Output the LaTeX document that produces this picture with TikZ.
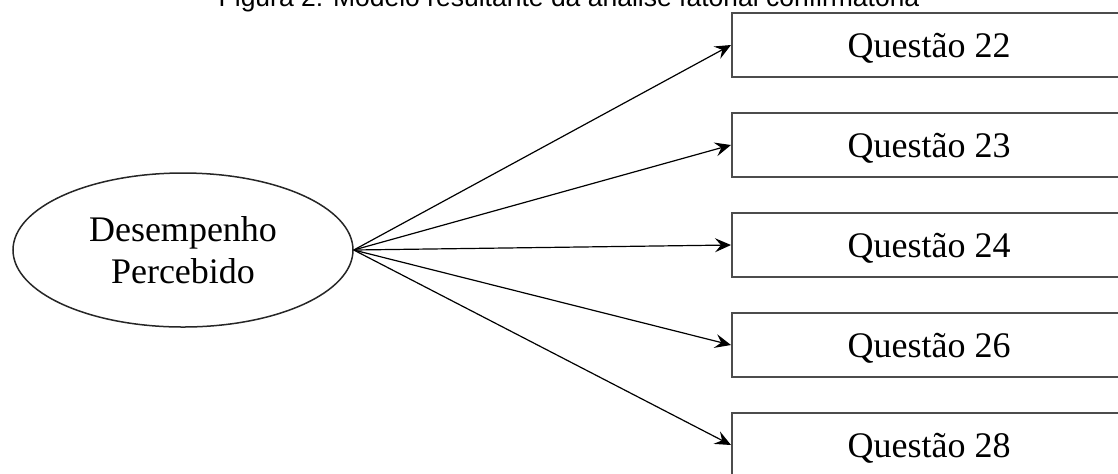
\documentclass[tikz,border=0pt]{standalone}
\usepackage{fontspec}
\setmainfont{Liberation Serif}
\newfontfamily\arialfont{Liberation Sans}
\usetikzlibrary{shapes.geometric,arrows.meta,positioning}

\begin{document}
\begin{tikzpicture}[x=0.5pt,y=-0.5pt,
		caixa/.style={draw=black!70, line width=1pt, minimum width=197pt, minimum height=32pt, inner sep=0pt, text height=12pt, text depth=0pt, font=\fontsize{18}{21}\selectfont},
		fator/.style={draw=black!85, ellipse, line width=0.75pt, minimum width=170pt, minimum height=77pt, inner sep=0pt, align=center, font=\fontsize{18}{21}\selectfont},
		seta/.style={line width=0.6pt, -{Stealth[length=8pt,width=7pt,inset=3pt]}}]
	\useasboundingbox (0,0) rectangle (1118,473);
	\clip (0,0) rectangle (1118,473);
	% titulo (cortado no topo)
	\node[anchor=base, font=\arialfont\fontsize{13.25}{15}\selectfont, inner sep=0pt] (titulo) at (569,6) {Figura 2: Modelo resultante da análise fatorial confirmatória};
	% variavel latente
	\node[fator] (latente) at (183,250) {Desempenho\\Percebido};
	% questoes
	\foreach \n [count=\i from 0] in {22,23,24,26,28} {
		\node[caixa] (q\n) at (929,45+100*\i) {Questão \n};
		\draw[seta] (latente.east) -- (q\n.west);
	}
\end{tikzpicture}
\end{document}
